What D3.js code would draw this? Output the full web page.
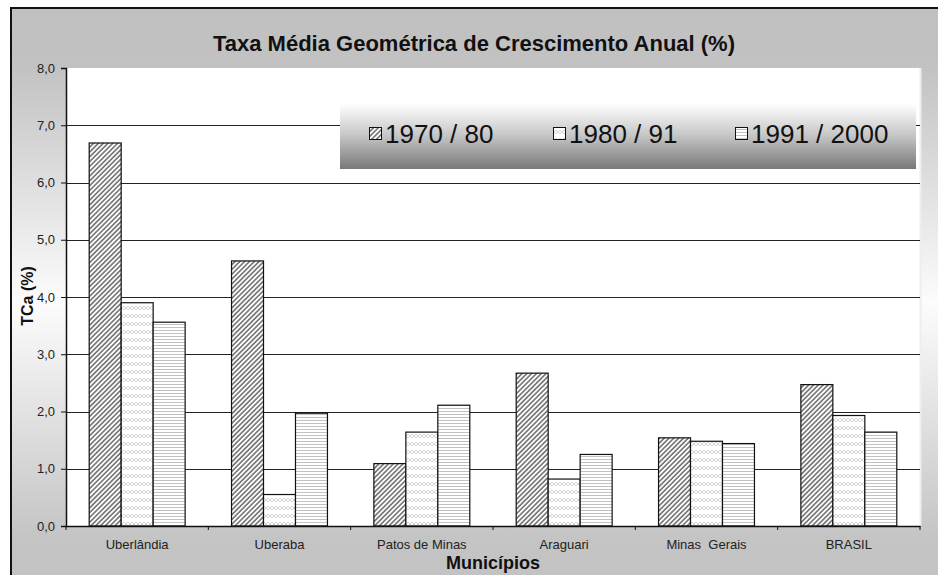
<!DOCTYPE html>
<html><head><meta charset="utf-8">
<script src="https://cdn.jsdelivr.net/npm/d3@7"></script>
<style>html,body{margin:0;padding:0;background:#fff;overflow:hidden}svg{display:block}</style>
</head><body>
<svg id="chart" width="938" height="575"></svg>
<script>
const categories = ["Uberlândia","Uberaba","Patos de Minas","Araguari","Minas  Gerais","BRASIL"];
const seriesNames = ["1970 / 80","1980 / 91","1991 / 2000"];
const v1970_80   = [6.69, 4.63, 1.09, 2.67, 1.54, 2.47];
const v1980_91   = [3.90, 0.55, 1.64, 0.82, 1.48, 1.93];
const v1991_2000 = [3.56, 1.97, 2.11, 1.25, 1.44, 1.64];
const yTicks = [0,1,2,3,4,5,6,7,8];
const yTickLabels = ["0,0","1,0","2,0","3,0","4,0","5,0","6,0","7,0","8,0"];
const seriesValues = [v1970_80, v1980_91, v1991_2000];

(function(){
const svg = d3.select("#chart");
const font = "'Liberation Sans', Arial, sans-serif";
const defs = svg.append("defs");

// background gradient
const bg = defs.append("linearGradient").attr("id","bgGrad").attr("x1",0).attr("y1",0).attr("x2",0).attr("y2",1);
bg.append("stop").attr("offset","0").attr("stop-color","#c0c0c0");
bg.append("stop").attr("offset","0.1").attr("stop-color","#c2c2c2");
bg.append("stop").attr("offset","0.5").attr("stop-color","#fcfcfc");
bg.append("stop").attr("offset","0.9").attr("stop-color","#c4c4c4");
bg.append("stop").attr("offset","1").attr("stop-color","#c2c2c2");

const lg = defs.append("linearGradient").attr("id","legGrad").attr("x1",0).attr("y1",0).attr("x2",0).attr("y2",1);
lg.append("stop").attr("offset","0").attr("stop-color","#ffffff");
lg.append("stop").attr("offset","0.15").attr("stop-color","#ffffff");
lg.append("stop").attr("offset","0.55").attr("stop-color","#c8c8c8");
lg.append("stop").attr("offset","1").attr("stop-color","#787878");

// patterns
const p1 = defs.append("pattern").attr("id","pat0").attr("patternUnits","userSpaceOnUse")
  .attr("width",3.4).attr("height",6).attr("patternTransform","rotate(45)");
p1.append("rect").attr("width",3.4).attr("height",6).attr("fill","#fff");
p1.append("line").attr("x1",0.9).attr("y1",0).attr("x2",0.9).attr("y2",6).attr("stroke","#686868").attr("stroke-width",1.5);

const p2 = defs.append("pattern").attr("id","pat1").attr("patternUnits","userSpaceOnUse")
  .attr("width",8).attr("height",8);
p2.append("rect").attr("width",8).attr("height",8).attr("fill","#fff");
p2.append("path").attr("d","M0,2 L4,6 L8,2 M0,6 L4,2 L8,6").attr("fill","none").attr("stroke","#cfcfcf").attr("stroke-width",0.9);

const p3 = defs.append("pattern").attr("id","pat2").attr("patternUnits","userSpaceOnUse")
  .attr("width",6).attr("height",3);
p3.append("rect").attr("width",6).attr("height",3).attr("fill","#fff");
p3.append("line").attr("x1",0).attr("y1",0.5).attr("x2",6).attr("y2",0.5).attr("stroke","#c2c2c2").attr("stroke-width",1);

// outer frame
svg.append("rect").attr("x",11).attr("y",8).attr("width",940).attr("height",590)
  .attr("fill","url(#bgGrad)").attr("stroke","#111").attr("stroke-width",2);

const pl = 66, pr = 920, pt = 68, pb = 526;
svg.append("rect").attr("x",pl).attr("y",pt).attr("width",pr-pl).attr("height",pb-pt).attr("fill","#fff");
svg.append("line").attr("x1",pr+0.5).attr("x2",pr+0.5).attr("y1",pt).attr("y2",pb).attr("stroke","#eeeeee").attr("stroke-width",2);

const x = d3.scaleBand().domain(categories).range([pl,pr]).paddingInner(0).paddingOuter(0);
const bw = x.bandwidth();
const xs = d3.scaleBand().domain(seriesNames).range([bw*0.163, bw*0.837]);
const y = d3.scaleLinear().domain([0,8]).range([pb,pt]);

// gridlines
svg.append("g").selectAll("line").data(yTicks.filter(d=>d>0 && d<8)).join("line")
  .attr("x1",pl).attr("x2",pr)
  .attr("y1",d=>Math.round(y(d))+0.5).attr("y2",d=>Math.round(y(d))+0.5)
  .attr("stroke","#222").attr("stroke-width",1);

// legend (covers gridlines)
const legG = svg.append("g");
legG.append("rect").attr("x",340).attr("y",92).attr("width",576).attr("height",77).attr("fill","url(#legGrad)");
const legX = [369, 553, 735];
seriesNames.forEach((s,i)=>{
  legG.append("rect").attr("x",legX[i]+0.5).attr("y",127.5).attr("width",12).attr("height",12)
    .attr("fill",`url(#pat${i})`).attr("stroke","#111").attr("stroke-width",1);
  legG.append("text").attr("x",legX[i]+16).attr("y",143).attr("font-family",font).attr("font-size",26)
    .attr("fill","#111").text(s);
});

// bars
const gBars = svg.append("g");
categories.forEach((c,ci)=>{
  seriesNames.forEach((s,si)=>{
    const val = seriesValues[si][ci];
    gBars.append("rect")
      .attr("x", x(c)+xs(s)).attr("width", xs.bandwidth())
      .attr("y", y(val)).attr("height", y(0)-y(val))
      .attr("fill",`url(#pat${si})`).attr("stroke","#111").attr("stroke-width",1.2);
  });
});

// y axis
const yAxis = d3.axisLeft(y).tickValues(yTicks).tickSize(5).tickPadding(6)
  .tickFormat((d,i)=>yTickLabels[i]);
const gy = svg.append("g").attr("transform",`translate(${pl},0)`).call(yAxis);
gy.select(".domain").attr("stroke","#111").attr("stroke-width",1.5);
gy.selectAll(".tick line").attr("stroke","#111");
gy.selectAll(".tick text").attr("font-family",font).attr("font-size",13).attr("fill","#222");

// x axis
const xAxis = d3.axisBottom(x).tickSize(0).tickPadding(0).tickFormat(()=>"");
const gx = svg.append("g").attr("transform",`translate(0,${pb})`).call(xAxis);
gx.select(".domain").attr("stroke","#111").attr("stroke-width",1.5);
const boundaries = categories.map(c=>x(c)).concat([pr]);
svg.append("g").selectAll("line").data(boundaries).join("line")
  .attr("x1",d=>d).attr("x2",d=>d).attr("y1",pb).attr("y2",pb+4).attr("stroke","#111");
svg.append("g").selectAll("text").data(categories).join("text")
  .attr("x",d=>x(d)+bw/2).attr("y",549).attr("text-anchor","middle")
  .attr("font-family",font).attr("font-size",13).attr("fill","#222")
  .style("white-space","pre").text(d=>d);

// titles
svg.append("text").attr("x",474).attr("y",51).attr("text-anchor","middle")
  .attr("font-family",font).attr("font-size",22).attr("font-weight","bold").attr("fill","#111")
  .text("Taxa Média Geométrica de Crescimento Anual (%)");
svg.append("text").attr("x",(pl+pr)/2).attr("y",569).attr("text-anchor","middle")
  .attr("font-family",font).attr("font-size",18).attr("font-weight","bold").attr("fill","#111")
  .text("Municípios");
svg.append("text").attr("transform","translate(33,296) rotate(-90)").attr("text-anchor","middle")
  .attr("font-family",font).attr("font-size",16).attr("font-weight","bold").attr("fill","#111")
  .text("TCa (%)");
})();
</script>
</body></html>
